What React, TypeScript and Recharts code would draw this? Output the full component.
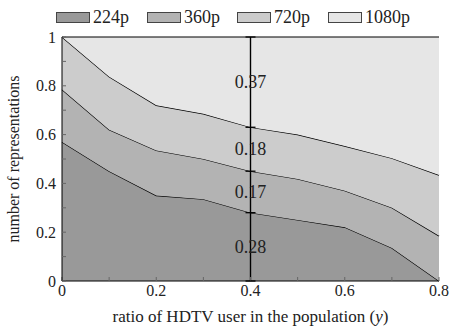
import { ComposedChart, Area, Scatter, XAxis, YAxis, ReferenceLine } from 'recharts';

const ratios = [0, 0.1, 0.2, 0.3, 0.4, 0.5, 0.6, 0.7, 0.8];
const share224 = [0.57, 0.45, 0.35, 0.335, 0.28, 0.25, 0.22, 0.135, 0.0];
const share360 = [0.215, 0.17, 0.185, 0.165, 0.17, 0.168, 0.15, 0.165, 0.185];
const share720 = [0.215, 0.217, 0.185, 0.185, 0.18, 0.182, 0.183, 0.203, 0.249];
const share1080 = [0, 0.163, 0.28, 0.315, 0.37, 0.4, 0.447, 0.497, 0.566];

const seriesNames = ['224p', '360p', '720p', '1080p'];
const seriesKeys = ['p224', 'p360', 'p720', 'p1080'];
const seriesFills = ['#999999', '#b3b3b3', '#cccccc', '#e6e6e6'];

const xTicks = [0, 0.1, 0.2, 0.3, 0.4, 0.5, 0.6, 0.7, 0.8];
const yTicks = [0, 0.1, 0.2, 0.3, 0.4, 0.5, 0.6, 0.7, 0.8, 0.9, 1];
const xLabeled = [0, 0.2, 0.4, 0.6, 0.8];
const yLabeled = [0, 0.2, 0.4, 0.6, 0.8, 1];

// breakdown annotated at y = 0.4
const markX = 0.4;
const markShares = [0.28, 0.17, 0.18, 0.37];

const FONT = '"Liberation Serif", serif';

const data = ratios.map((x, i) => ({
  x,
  p224: share224[i],
  p360: share360[i],
  p720: share720[i],
  p1080: share1080[i],
}));

let acc = 0;
const bounds = [{ x: markX, y: 0 }];
const labels: { x: number; y: number; text: string }[] = [];
markShares.forEach((s) => {
  labels.push({ x: markX, y: acc + s / 2, text: s.toFixed(2) });
  acc += s;
  bounds.push({ x: markX, y: acc });
});

const fmt = (v: number) => String(Math.round(v * 10) / 10);

const TickCap = (props: any) => (
  <line x1={props.cx - 5} x2={props.cx + 5} y1={props.cy} y2={props.cy} stroke="#000" strokeWidth={1.3} />
);

const ShareText = (props: any) => (
  <text x={props.cx} y={props.cy} dy="0.34em" textAnchor="middle" fontFamily={FONT} fontSize={18} fill="#222">
    {props.payload.text}
  </text>
);

function LegendRow() {
  return (
    <div style={{ position: 'absolute', left: 0, top: 0, width: 450, height: 30 }}>
      {seriesNames.map((name, i) => (
        <div
          key={name}
          style={{
            position: 'absolute',
            top: 7,
            left: [56, 147, 237, 328][i],
            display: 'flex',
            alignItems: 'center',
            fontFamily: FONT,
            fontSize: 18,
            lineHeight: '20px',
            color: '#222',
          }}
        >
          <span style={{ display: 'inline-block', width: 32, height: 9, background: seriesFills[i], border: '1px solid #444', marginRight: 3 }} />
          {name}
        </div>
      ))}
    </div>
  );
}

export default function App() {
  return (
    <div style={{ position: 'absolute', left: 0, top: 0, width: 450, height: 326, background: '#fff' }}>
      <LegendRow />
      <ComposedChart width={450} height={326} data={data} margin={{ top: 37, right: 11, bottom: 0, left: 0 }}>
        {seriesKeys.map((k, i) => (
          <Area
            key={k}
            type="linear"
            dataKey={k}
            name={seriesNames[i]}
            stackId="1"
            fill={seriesFills[i]}
            fillOpacity={1}
            stroke="#000"
            strokeWidth={1.2}
            isAnimationActive={false}
          />
        ))}
        <ReferenceLine x={markX} stroke="#000" strokeWidth={1.4} />
        <Scatter data={bounds} dataKey="y" shape={<TickCap />} isAnimationActive={false} />
        <Scatter data={labels} dataKey="y" shape={<ShareText />} isAnimationActive={false} />
        <XAxis
          dataKey="x"
          type="number"
          domain={[0, 0.8]}
          ticks={xTicks}
          interval={0}
          height={45}
          tickSize={-4}
          tickMargin={8}
          axisLine={{ stroke: '#000' }}
          tickLine={{ stroke: '#666' }}
          tickFormatter={(v: number) => (xLabeled.some((t) => Math.abs(t - v) < 1e-6) ? fmt(v) : '')}
          tick={{ fontFamily: FONT, fontSize: 16, fill: '#222' }}
          label={({ viewBox }: any) => (
            <text x={viewBox.x + viewBox.width / 2} y={316} dy="0.33em" textAnchor="middle" fontFamily={FONT} fontSize={17} fill="#222">
              ratio of HDTV user in the population (<tspan fontStyle="italic">y</tspan>)
            </text>
          )}
        />
        <XAxis
          xAxisId="top"
          orientation="top"
          type="number"
          domain={[0, 0.8]}
          ticks={xTicks}
          height={0}
          tickSize={-4}
          tick={false}
          axisLine={{ stroke: '#000' }}
          tickLine={{ stroke: '#666' }}
        />
        <YAxis
          type="number"
          domain={[0, 1]}
          ticks={yTicks}
          interval={0}
          width={62}
          tickSize={-4}
          tickMargin={10}
          axisLine={{ stroke: '#000' }}
          tickLine={{ stroke: '#666' }}
          tickFormatter={(v: number) => (yLabeled.some((t) => Math.abs(t - v) < 1e-6) ? fmt(v) : '')}
          tick={{ fontFamily: FONT, fontSize: 16, fill: '#222' }}
          label={({ viewBox }: any) => (
            <text
              x={14}
              y={viewBox.y + viewBox.height / 2}
              dy="0.33em"
              textAnchor="middle"
              transform={`rotate(-90, 14, ${viewBox.y + viewBox.height / 2})`}
              fontFamily={FONT}
              fontSize={16}
              fill="#222"
            >
              number of representations
            </text>
          )}
        />
        <YAxis
          yAxisId="right"
          orientation="right"
          type="number"
          domain={[0, 1]}
          ticks={yTicks}
          width={0}
          tickSize={-4}
          tick={false}
          axisLine={{ stroke: '#000' }}
          tickLine={{ stroke: '#666' }}
        />
      </ComposedChart>
    </div>
  );
}
